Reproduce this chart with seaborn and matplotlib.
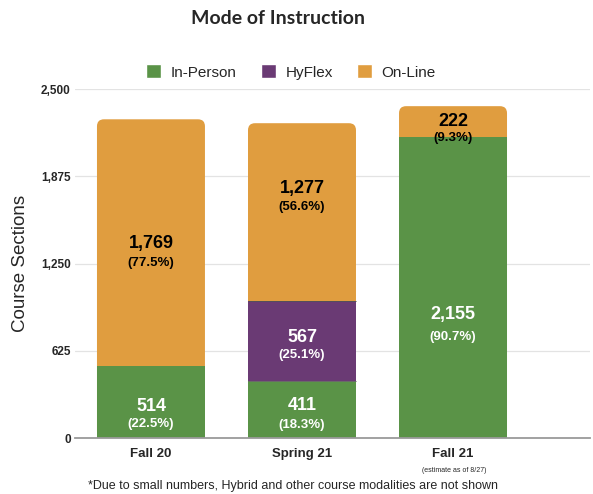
import numpy as np
import pandas as pd
import seaborn as sns
import matplotlib
matplotlib.use("Agg")
import matplotlib.pyplot as plt
from matplotlib.patches import FancyBboxPatch, Patch

# ---- data ----
terms = ["Fall 20", "Spring 21", "Fall 21"]
in_person = [514, 411, 2155]
hyflex = [0, 567, 0]
online = [1769, 1277, 222]
in_person_pct = ["(22.5%)", "(18.3%)", "(90.7%)"]
hyflex_pct = ["", "(25.1%)", ""]
online_pct = ["(77.5%)", "(56.6%)", "(9.3%)"]
y_ticks = [0, 625, 1250, 1875, 2500]
y_tick_labels = ["0", "625", "1,250", "1,875", "2,500"]

GREEN = "#5A9347"
PURPLE = "#6A3A74"
ORANGE = "#E09D3F"

sns.set_theme(style="white")
plt.rcParams["font.family"] = ["Liberation Sans", "DejaVu Sans"]

fig = plt.figure(figsize=(5.93, 4.94), dpi=100)
ax = fig.add_axes([75 / 593, 1 - 438 / 494, 515 / 593, (438 - 89) / 494])

ip = np.array(in_person)
hf = np.array(hyflex)
ol = np.array(online)
level2 = ip + hf
level3 = ip + hf + ol

W = 0.715
sns.barplot(x=terms, y=level3, color=ORANGE, saturation=1, width=W, ax=ax, zorder=2)
n_top = len(ax.patches)
sns.barplot(x=terms, y=level2, color=PURPLE, saturation=1, width=W, ax=ax, zorder=3)
sns.barplot(x=terms, y=ip, color=GREEN, saturation=1, width=W, ax=ax, zorder=4)

ax.set_xlim(-0.503, 2.907)
ax.set_ylim(0, 2500)

# rounded tops for the outer (on-line) bars
px_x = 1 / 151.0           # x data units per pixel
px_y = 2500 / 349.0        # y data units per pixel
aspect = px_y / px_x
radius_px = 7
for p in list(ax.patches[:n_top]):
    x, y = p.get_x(), p.get_y()
    w, h = p.get_width(), p.get_height()
    fb = FancyBboxPatch((x, y), w, h,
                        boxstyle=f"round,pad=0,rounding_size={radius_px * px_x}",
                        mutation_aspect=aspect, facecolor=p.get_facecolor(),
                        edgecolor="none", zorder=2)
    ax.add_patch(fb)
    p.set_visible(False)

for p in ax.patches:
    p.set_edgecolor("none")
    p.set_linewidth(0)

# segment separators (only where the HyFlex segment is present)
for i in range(len(terms)):
    if hf[i] > 0:
        for lvl, col in ((level2[i], "#55505a"), (ip[i], "#6a6a6a")):
            ax.plot([i - W / 2, i + W / 2], [lvl, lvl], color=col, lw=0.7, zorder=5,
                    solid_capstyle="butt")

# grid & axes
ax.set_yticks(y_ticks)
ax.set_yticklabels(y_tick_labels, fontsize=8.5, fontweight="bold")
ax.yaxis.grid(True, color="#e3e3e3", lw=0.9, zorder=0)
ax.set_axisbelow(True)
for s in ["top", "right", "left"]:
    ax.spines[s].set_visible(False)
ax.spines["bottom"].set_color("#9a9a9a")
ax.spines["bottom"].set_linewidth(1.3)
ax.spines["bottom"].set_zorder(6)
ax.tick_params(axis="y", length=0, pad=3)
ax.tick_params(axis="x", length=0, pad=7)
ax.set_xticks(range(len(terms)))
ax.set_xticklabels(terms, fontsize=9.5, fontweight="bold")
ax.set_ylabel("Course Sections", fontsize=13.5, labelpad=9)
ax.set_xlabel("")

def fmt(v):
    return f"{v:,}"

# label offsets below the segment middle, in pixels
num_off = {(0, 0): 4, (0, 2): 1, (1, 0): -4, (1, 1): -4, (1, 2): -24, (2, 0): 27, (2, 2): 0}
pct_off = {(0, 0): 22, (0, 2): 20, (1, 0): 16, (1, 1): 14, (1, 2): -5, (2, 0): 49, (2, 2): 16}
for i in range(len(terms)):
    segs = [(ip[i], in_person_pct[i], 0, "white"),
            (hf[i], hyflex_pct[i], ip[i], "white"),
            (ol[i], online_pct[i], level2[i], "black")]
    for k, (v, pct, b, c) in enumerate(segs):
        if v <= 0:
            continue
        mid = b + v / 2
        ax.annotate(fmt(v), (i, mid), xytext=(0, -num_off[(i, k)] * 0.72),
                    textcoords="offset points", ha="center", va="center",
                    fontsize=13, fontweight="bold", color=c, zorder=7)
        ax.annotate(pct, (i, mid), xytext=(0, -pct_off[(i, k)] * 0.72),
                    textcoords="offset points", ha="center", va="center",
                    fontsize=9.5, fontweight="bold", color=c, zorder=7)

# title
fig.text(278 / 593, 1 - 18 / 494, "Mode of Instruction", ha="center", va="center",
         fontsize=14, fontweight="bold", family=["Lato", "DejaVu Sans"])

# legend
handles = [Patch(facecolor=GREEN, label="In-Person"),
           Patch(facecolor=PURPLE, label="HyFlex"),
           Patch(facecolor=ORANGE, label="On-Line")]
fig.legend(handles=handles, loc="center", bbox_to_anchor=(291 / 593, 1 - 72 / 494),
           ncol=3, frameon=False, fontsize=11, handlelength=1.0, handleheight=1.0,
           handletextpad=0.6, columnspacing=1.6)

# sub-label and footnote
fig.text(454 / 593, 1 - 470 / 494, "(estimate as of 8/27)", ha="center", va="center",
         fontsize=5)
fig.text(293 / 593, 1 - 486 / 494,
         "*Due to small numbers, Hybrid and other course modalities are not shown",
         ha="center", va="center", fontsize=9)

fig.savefig("out.png", dpi=100)
